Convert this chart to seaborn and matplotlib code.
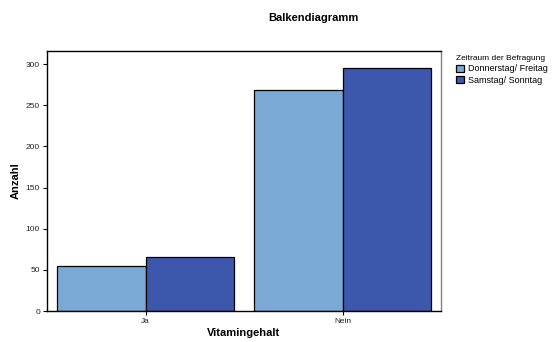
import matplotlib
matplotlib.use("Agg")
import matplotlib.pyplot as plt
import pandas as pd
import seaborn as sns

# Daten
kategorien = ["Ja", "Nein", "Ja", "Nein"]
zeitraum = ["Donnerstag/ Freitag", "Donnerstag/ Freitag", "Samstag/ Sonntag", "Samstag/ Sonntag"]
anzahl = [55, 268, 66, 295]
farben = ["#7BA9D6", "#3D57AC"]

df = pd.DataFrame({"Vitamingehalt": kategorien, "Zeitraum": zeitraum, "Anzahl": anzahl})

sns.set_style("white")
plt.rcParams["font.family"] = ["Liberation Sans", "DejaVu Sans"]
plt.rcParams["text.color"] = "black"

fig = plt.figure(figsize=(5.54, 3.42), dpi=100)
ax = fig.add_axes([47 / 554, 31 / 342, 394 / 554, 260 / 342])

sns.barplot(data=df, x="Vitamingehalt", y="Anzahl", hue="Zeitraum",
            palette=farben, width=0.9, edgecolor="black", linewidth=0.9,
            saturation=1, ax=ax)

ax.set_xlim(-0.5, 1.5)
ax.set_ylim(0, 316)
ax.set_yticks([0, 50, 100, 150, 200, 250, 300])
ax.tick_params(axis="both", labelsize=6, length=3, width=0.8, direction="out",
               colors="black", labelcolor="#222222", pad=2, left=True, bottom=True)
ax.set_xlabel("Vitamingehalt", fontsize=8, fontweight="bold", labelpad=2, color="black")
ax.set_ylabel("Anzahl", fontsize=8, fontweight="bold", labelpad=4, color="black")

for s in ["left", "bottom", "top"]:
    ax.spines[s].set_color("black")
    ax.spines[s].set_linewidth(1.0)
ax.spines["right"].set_color("#808080")
ax.spines["right"].set_linewidth(1.0)

fig.suptitle("Balkendiagramm", x=313 / 554, y=1 - 18 / 342, fontsize=8,
             fontweight="bold", va="center")

leg = ax.legend(title="Zeitraum der Befragung", loc="upper left",
                bbox_to_anchor=(1.03, 1.0), frameon=False, fontsize=6.5,
                title_fontsize=6, handlelength=0.8, handleheight=0.8,
                handletextpad=0.5, labelspacing=0.3, borderaxespad=0)
leg._legend_box.align = "left"

fig.savefig("out.png", dpi=100)
